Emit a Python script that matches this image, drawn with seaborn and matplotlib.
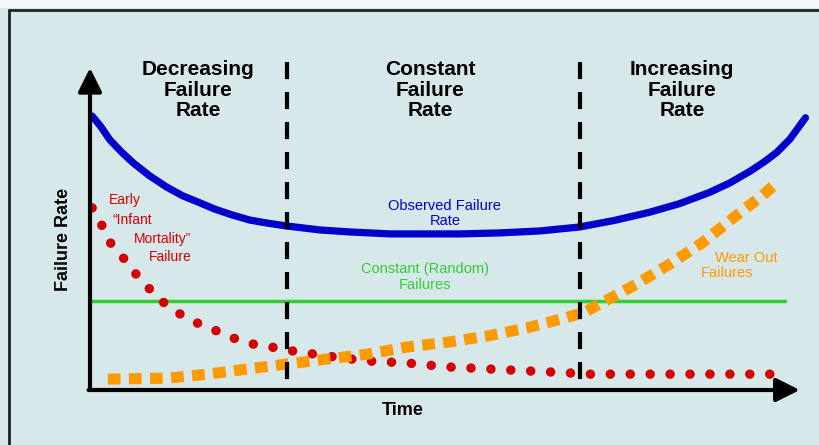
import matplotlib
matplotlib.use("Agg")
import matplotlib.pyplot as plt
from matplotlib.lines import Line2D
import seaborn as sns

# values (time 0-100, failure rate 0-100)
obs_t = [0.3, 1.5, 2.8, 4.4, 6.1, 8.4, 10.8, 13.0, 15.5, 17.6, 20.1, 22.5, 24.9, 27.7,
         32.4, 36.6, 42.3, 46.5, 52.1, 57.7, 63.4, 69.0, 73.9, 78.9, 83.1, 87.3, 90.1, 93.0, 95.1,
         96.8, 98.6, 100.8]
obs_r = [83.0, 79.9, 75.8, 72.2, 68.8, 64.9, 61.5, 58.9, 56.7, 54.8, 53.0, 51.5, 50.6, 49.7,
         48.5, 47.9, 47.3, 47.3, 47.3, 47.6, 48.2, 49.4, 51.4, 53.9, 56.5, 59.9, 62.7, 66.3, 69.3,
         72.1, 76.0, 82.5]

early_t = [0.3, 1.8, 2.8, 4.6, 6.2, 8.0, 9.9, 12.0, 14.4, 16.9, 19.4, 22.1, 24.9, 27.7, 33.4, 39.0, 44.6, 50.3, 55.9, 61.5, 67.3, 70.1, 95.8]
early_r = [55.2, 49.4, 44.8, 40.3, 35.8, 31.5, 27.3, 23.9, 20.9, 18.8, 16.4, 14.2, 13.3, 12.1, 10.3, 8.8, 8.2, 7.0, 6.4, 5.8, 5.2, 4.8, 4.8]

wear_t = [2.5, 11.0, 16.6, 22.3, 27.9, 33.5, 39.2, 44.6, 50.4, 56.1, 61.5, 66.9, 69.7, 72.1, 77.0, 81.7, 86.2, 90.6, 94.8, 97.0]
wear_r = [3.3, 3.6, 4.8, 6.4, 7.9, 9.4, 10.9, 13.0, 14.5, 16.4, 18.8, 21.8, 23.6, 26.4, 32.1, 38.2, 44.5, 52.1, 59.1, 63.2]

random_t = [0.3, 97.9]
random_r = [27.0, 27.0]

phase_edges = [27.7, 69.0]
phase_labels = ["Decreasing\nFailure\nRate", "Constant\nFailure\nRate", "Increasing\nFailure\nRate"]
phase_centers = [15.2, 47.9, 83.4]

bg = "#d7e8eb"
sns.set_theme(style="white")
plt.rcParams["font.family"] = ["Liberation Sans", "DejaVu Sans"]

fig = plt.figure(figsize=(8.2, 4.45), dpi=100, facecolor=bg)
ax = fig.add_axes([90 / 820, 55 / 445, 724 / 820, 330 / 445])
ax.set_xlim(0, 102)
ax.set_ylim(0, 100)
ax.axis("off")

# frame of the panel
fig.patches.append(plt.Rectangle((0, 1 - 8 / 445), 1, 8 / 445, transform=fig.transFigure,
                                 facecolor="#f4f8f8", edgecolor="none", zorder=0))
fig.add_artist(Line2D([9 / 820, 1], [1 - 10 / 445, 1 - 10 / 445], color="#222222", lw=2))
fig.add_artist(Line2D([9 / 820, 9 / 820], [0, 1 - 10 / 445], color="#222222", lw=2))

sns.lineplot(x=random_t, y=random_r, ax=ax, color="#33cc33", linewidth=2.5)
sns.lineplot(x=early_t, y=early_r, ax=ax, color="#d40000", linewidth=6.8,
             linestyle=(0, (0.01, 2.1)), dash_capstyle="round")
sns.lineplot(x=wear_t, y=wear_r, ax=ax, color="#ff9a00", linewidth=8,
             linestyle=(0, (1.15, 0.75)), dash_capstyle="butt")
sns.lineplot(x=obs_t, y=obs_r, ax=ax, color="#0000cc", linewidth=5.2)

for x in phase_edges:
    sns.lineplot(x=[x, x], y=[99.4, 0], ax=ax, color="black", linewidth=3,
                 linestyle=(0, (4.1, 3.1)), estimator=None, sort=False)

# axes with arrow heads
arrow = dict(arrowstyle="-|>", color="black", lw=3, mutation_scale=36, shrinkA=0, shrinkB=0)
ax.annotate("", xy=(0, 97.6), xytext=(0, 0), arrowprops=arrow, annotation_clip=False)
ax.annotate("", xy=(100, 0), xytext=(-0.2, 0), arrowprops=arrow, annotation_clip=False)

for x, label in zip(phase_centers, phase_labels):
    ax.text(x, 90.9, label, ha="center", va="center", fontsize=15, fontweight="bold",
            linespacing=1.1, color="black")

ax.text(50.0, 53.6, "Observed Failure\nRate", ha="center", va="center", fontsize=10.5,
        color="#0000cc", linespacing=1.1)
ax.text(47.2, 34.2, "Constant (Random)\nFailures", ha="center", va="center", fontsize=10.5,
        color="#33cc33", linespacing=1.2)
ax.text(92.4, 40.0, "Wear Out", ha="center", va="center", fontsize=10.5, color="#ff9a00")
ax.text(89.7, 35.5, "Failures", ha="center", va="center", fontsize=10.5, color="#ff9a00")

early_lines = [("Early", 2.6, 57.6), ("\u201cInfant", 3.1, 51.6), ("Mortality\u201d", 6.2, 45.8), ("Failure", 8.3, 40.3)]
for txt, x, y in early_lines:
    ax.text(x, y, txt, ha="left", va="center", fontsize=10, color="#d40000")

ax.text(-3.8, 45.5, "Failure Rate", ha="center", va="center", rotation=90, fontsize=13,
        fontweight="bold", color="black")
ax.text(44.1, -6.1, "Time", ha="center", va="center", fontsize=13, fontweight="bold", color="black")

fig.savefig("out.png", dpi=100, facecolor=bg)
